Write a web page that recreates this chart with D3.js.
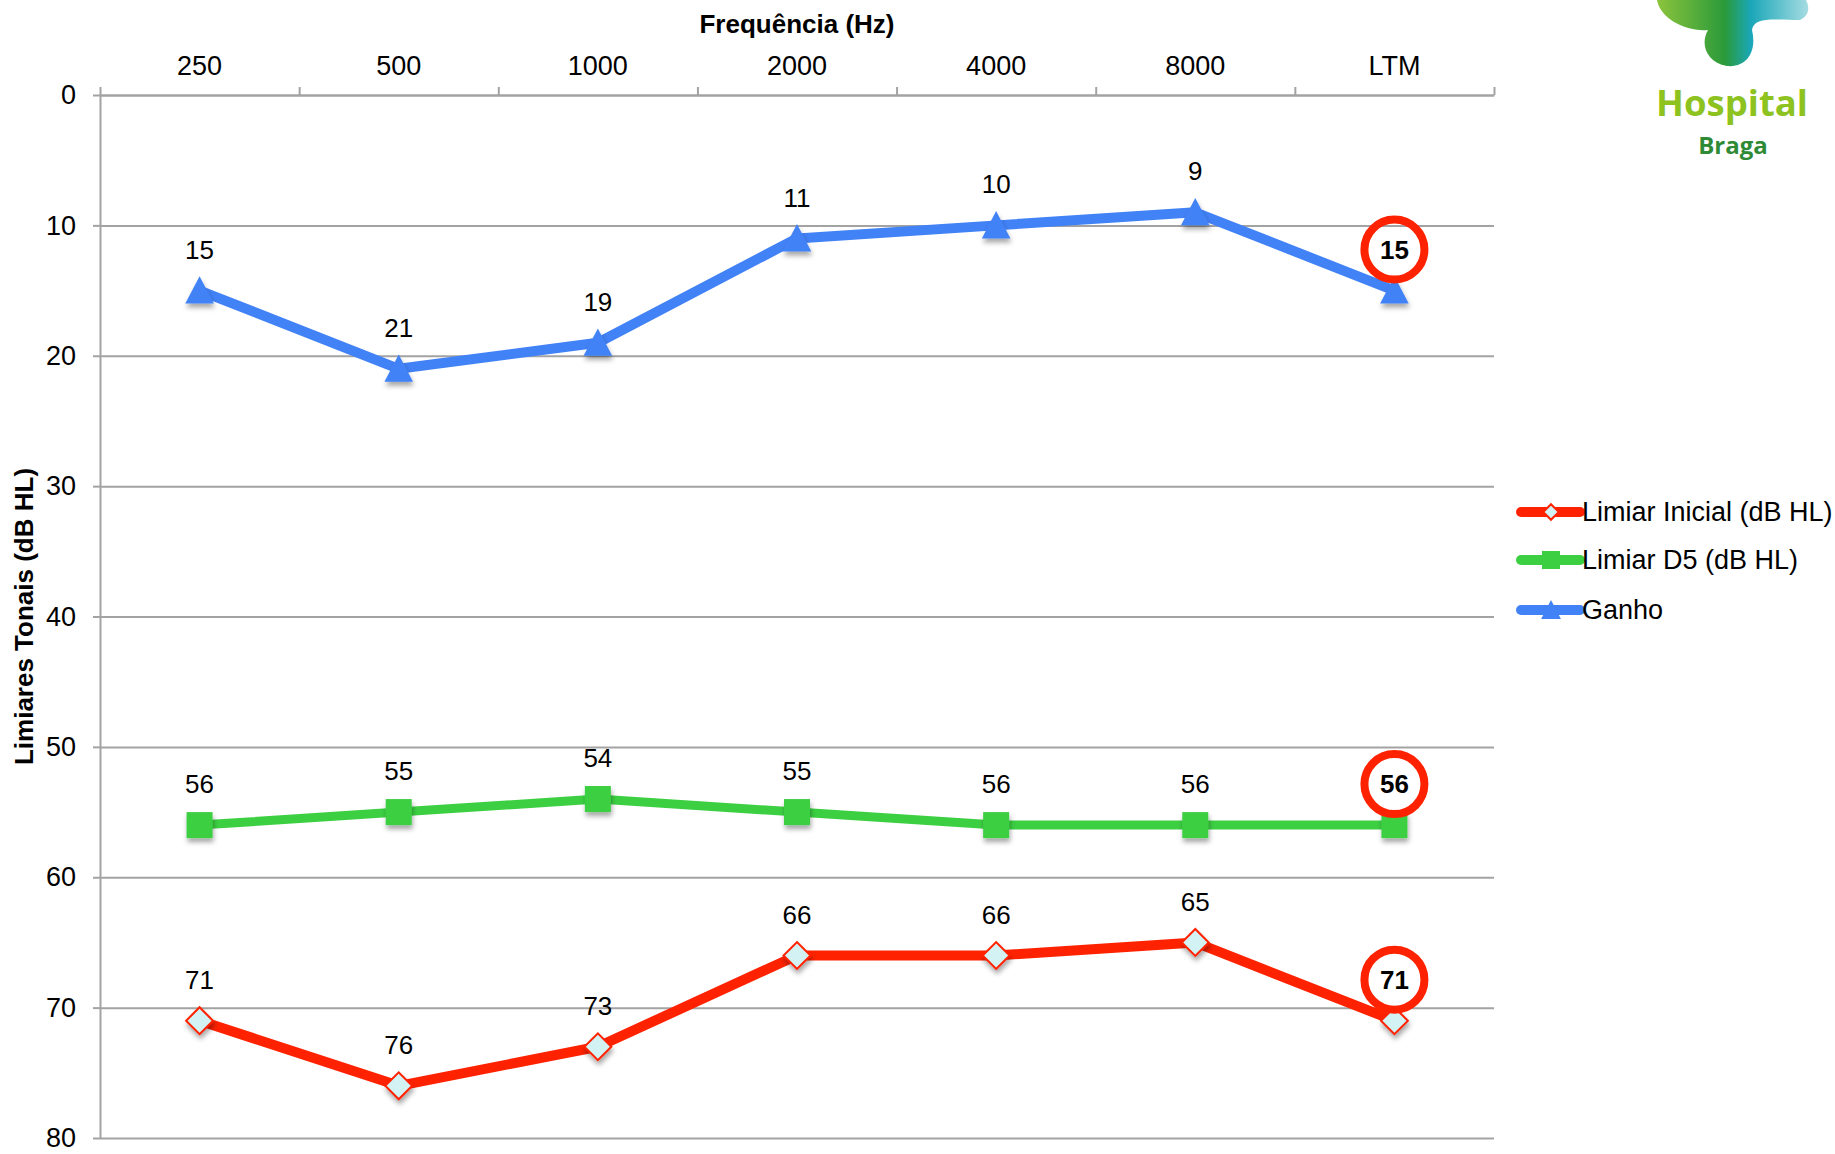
<!DOCTYPE html>
<html>
<head>
<meta charset="utf-8">
<script src="https://cdn.jsdelivr.net/npm/d3@7"></script>
<style>
  body { margin: 0; background: #fff; }
  svg { display: block; font-family: "Liberation Sans", Arial, sans-serif; }
</style>
</head>
<body>
<svg id="chart"></svg>
<script>
const categories = ["250", "500", "1000", "2000", "4000", "8000", "LTM"];
const limiarInicial = [71, 76, 73, 66, 66, 65, 71];
const limiarD5 = [56, 55, 54, 55, 56, 56, 56];
const ganho = [15, 21, 19, 11, 10, 9, 15];
const yTicks = [0, 10, 20, 30, 40, 50, 60, 70, 80];

const w = 1835;
const h = 1154;
const plotLeft = 100, plotRight = 1494, plotTop = 95, plotBottom = 1138;

const svg = d3.select("#chart").attr("width", w).attr("height", h);

const defs = svg.append("defs");
const shadow = defs.append("filter").attr("id", "shadow")
  .attr("x", "-50%").attr("y", "-50%").attr("width", "200%").attr("height", "200%");
shadow.append("feDropShadow").attr("dx", 1).attr("dy", 4).attr("stdDeviation", 2.5)
  .attr("flood-color", "#000").attr("flood-opacity", 0.35);

const x = d3.scaleBand().domain(categories).range([plotLeft, plotRight]);
const xEdges = d3.scaleLinear().domain([0, categories.length]).range([plotLeft, plotRight]);
const y = d3.scaleLinear().domain([0, 80]).range([plotTop, plotBottom]);

// gridlines
svg.append("g")
  .attr("transform", `translate(${plotLeft},0)`)
  .call(d3.axisLeft(y).tickValues(yTicks).tickSize(-(plotRight - plotLeft)).tickFormat(""))
  .call(g => g.select(".domain").remove())
  .call(g => g.selectAll("line").attr("stroke", "#a3a3a3").attr("stroke-width", 2));

// y axis
svg.append("g")
  .attr("transform", `translate(${plotLeft},0)`)
  .call(d3.axisLeft(y).tickValues(yTicks).tickSize(7).tickPadding(17).tickSizeOuter(0))
  .call(g => g.select(".domain").attr("stroke", "#a3a3a3").attr("stroke-width", 2))
  .call(g => g.selectAll("line").attr("stroke", "#a3a3a3").attr("stroke-width", 2))
  .call(g => g.selectAll("text").attr("font-size", 27).attr("fill", "#000")
    .attr("font-family", "Liberation Sans, Arial, sans-serif"));

// x axis (top) - boundary ticks
svg.append("g")
  .attr("transform", `translate(0,${plotTop})`)
  .call(d3.axisTop(xEdges).tickValues(d3.range(categories.length + 1))
    .tickSize(8).tickSizeOuter(0).tickFormat(""))
  .call(g => g.select(".domain").attr("stroke", "#a3a3a3").attr("stroke-width", 2))
  .call(g => g.selectAll("line").attr("stroke", "#a3a3a3").attr("stroke-width", 2));

// x axis labels
svg.append("g")
  .attr("transform", `translate(0,${plotTop})`)
  .call(d3.axisTop(x).tickSize(0).tickPadding(20))
  .call(g => g.select(".domain").remove())
  .call(g => g.selectAll("text").attr("font-size", 27).attr("fill", "#000")
    .attr("font-family", "Liberation Sans, Arial, sans-serif"));

// titles
svg.append("text")
  .attr("x", (plotLeft + plotRight) / 2).attr("y", 33)
  .attr("text-anchor", "middle").attr("font-size", 26).attr("font-weight", "bold")
  .text("Frequência (Hz)");

svg.append("text")
  .attr("transform", `translate(33,${(plotTop + plotBottom) / 2}) rotate(-90)`)
  .attr("text-anchor", "middle").attr("font-size", 26).attr("font-weight", "bold")
  .text("Limiares Tonais (dB HL)");

const series = [
  { name: "Limiar Inicial (dB HL)", values: limiarInicial, color: "#ff2200", width: 10, marker: "diamond" },
  { name: "Limiar D5 (dB HL)", values: limiarD5, color: "#3ccf42", width: 9, marker: "square" },
  { name: "Ganho", values: ganho, color: "#4282f7", width: 10, marker: "triangle" }
];

const cx = (d, i) => x(categories[i]) + x.bandwidth() / 2;

const drawMarker = (g, s, size) => {
  if (s.marker === "diamond") {
    g.append("path")
      .attr("d", d3.symbol(d3.symbolSquare, size * size)())
      .attr("transform", "rotate(45)")
      .attr("fill", "#d3f2f4").attr("stroke", s.color).attr("stroke-width", 2);
  } else if (s.marker === "square") {
    g.append("rect")
      .attr("x", -size / 2).attr("y", -size / 2).attr("width", size).attr("height", size)
      .attr("fill", s.color);
  } else {
    g.append("path")
      .attr("d", `M0,${-size * 0.55}L${size * 0.55},${size * 0.5}L${-size * 0.55},${size * 0.5}Z`)
      .attr("fill", s.color);
  }
};

const line = d3.line().x(cx).y(d => y(d));

series.forEach(s => {
  const g = svg.append("g");
  g.append("path")
    .datum(s.values)
    .attr("d", line)
    .attr("fill", "none")
    .attr("stroke", s.color)
    .attr("stroke-width", s.width)
    .attr("stroke-linejoin", "round");

  g.selectAll(".pt").data(s.values).enter().append("g")
    .attr("class", "pt")
    .attr("filter", "url(#shadow)")
    .attr("transform", (d, i) => `translate(${cx(d, i)},${y(d)})`)
    .each(function () { drawMarker(d3.select(this), s, s.marker === "diamond" ? 19 : 26); });

  // labels
  g.selectAll(".lbl").data(s.values).enter().append("text")
    .attr("x", cx)
    .attr("y", d => y(d) - 41)
    .attr("dy", "0.35em")
    .attr("text-anchor", "middle")
    .attr("font-size", 26)
    .attr("font-weight", (d, i) => i === categories.length - 1 ? "bold" : "normal")
    .text(d => d);

  // highlight on LTM
  const last = s.values.length - 1;
  g.append("circle")
    .attr("cx", cx(s.values[last], last))
    .attr("cy", y(s.values[last]) - 41)
    .attr("r", 30)
    .attr("fill", "none")
    .attr("stroke", "#ff2200")
    .attr("stroke-width", 8);
});

// legend
const legend = svg.append("g").attr("transform", "translate(1521,0)");
const legendY = [512, 560, 610];
series.forEach((s, i) => {
  const row = legend.append("g").attr("transform", `translate(0,${legendY[i]})`);
  row.append("line")
    .attr("x1", 0).attr("x2", 59)
    .attr("stroke", s.color).attr("stroke-width", 10).attr("stroke-linecap", "round");
  const m = row.append("g").attr("transform", "translate(30,0)");
  drawMarker(m, s, s.marker === "diamond" ? 11 : 18);
  row.append("text")
    .attr("x", 61).attr("dy", "0.35em")
    .attr("font-size", 27)
    .text(s.name);
});

// logo
const grad = defs.append("linearGradient").attr("id", "logoGrad")
  .attr("x1", "0%").attr("x2", "100%").attr("y1", "0%").attr("y2", "0%");
grad.append("stop").attr("offset", "0%").attr("stop-color", "#8cc43c");
grad.append("stop").attr("offset", "45%").attr("stop-color", "#2a9a3a");
grad.append("stop").attr("offset", "62%").attr("stop-color", "#1aa7b8");
grad.append("stop").attr("offset", "100%").attr("stop-color", "#a6dce2");
svg.append("path")
  .attr("d", "M1657,0 C1660,18 1685,32 1708,30 C1700,44 1706,62 1727,66 C1748,68 1757,50 1752,30 C1754,16 1775,20 1800,20 C1812,14 1808,4 1806,0 Z")
  .attr("fill", "url(#logoGrad)");

svg.append("text")
  .attr("x", 1732).attr("y", 116)
  .attr("text-anchor", "middle")
  .attr("font-family", "Open Sans, sans-serif").attr("font-weight", "bold")
  .attr("font-size", 35).attr("fill", "#8dc21f")
  .attr("textLength", 152).attr("lengthAdjust", "spacingAndGlyphs")
  .text("Hospital");
svg.append("text")
  .attr("x", 1733).attr("y", 154)
  .attr("text-anchor", "middle")
  .attr("font-family", "Open Sans, sans-serif").attr("font-weight", "bold")
  .attr("font-size", 24).attr("fill", "#2f8a36")
  .text("Braga");
</script>
</body>
</html>
